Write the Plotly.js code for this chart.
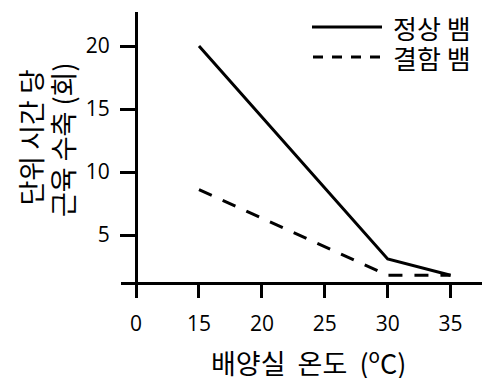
<!DOCTYPE html>
<html>
<head>
<meta charset="utf-8">
<script src="https://cdn.plot.ly/plotly-3.0.1.min.js"></script>
<style>html,body{margin:0;padding:0;background:#fff;}#chart{width:482px;height:378px;}</style>
</head>
<body>
<div id="chart"></div>
<script>
// Data
const xCategories = ["0", "15", "20", "25", "30", "35"];
const xValues = ["15", "30", "35"];
const normalValues = [20, 3.1, 1.8];
const defectValues = [8.6, 1.8, 1.8];
const seriesNames = ["정상 뱀", "결함 뱀"];
const yTickValues = [5, 10, 15, 20];
const xTitle = "배양실&nbsp; 온도&nbsp; (<sup>o</sup>C)";
const yTitleLines = ["단위 시간 당", "근육 수축 (회)"];

const korFont = "'Noto Sans CJK KR', 'Noto Sans', sans-serif";
const numFont = "'Open Sans', 'Noto Sans', sans-serif";

const traces = [
  {x: xValues, y: normalValues, name: seriesNames[0], type: "scatter", mode: "lines",
   line: {color: "#000", width: 3, dash: "solid"}, showlegend: false},
  {x: xValues, y: defectValues, name: seriesNames[1], type: "scatter", mode: "lines",
   line: {color: "#000", width: 3, dash: "14px,12px"}, showlegend: false}
];

const layout = {
  width: 482, height: 378,
  margin: {l: 121, r: 0, t: 12, b: 96},
  paper_bgcolor: "#fff", plot_bgcolor: "#fff",
  showlegend: false,
  xaxis: {
    type: "category", categoryorder: "array", categoryarray: xCategories,
    tickvals: xCategories, ticktext: xCategories,
    range: [-0.24, 5.5],
    showline: true, linecolor: "#000", linewidth: 3,
    ticks: "outside", ticklen: 13, tickwidth: 3, tickcolor: "#000",
    ticklabelstandoff: 8,
    showgrid: false, zeroline: false,
    tickfont: {family: numFont, size: 21, color: "#000"}
  },
  yaxis: {
    range: [1.27, 22.7],
    anchor: "free", position: 15/361,
    tickvals: yTickValues,
    showline: true, linecolor: "#000", linewidth: 3,
    ticks: "outside", ticklen: 15, tickwidth: 3, tickcolor: "#000",
    ticklabelstandoff: 6,
    showgrid: false, zeroline: false,
    tickfont: {family: numFont, size: 21, color: "#000"}
  },
  shapes: [
    {type: "line", xref: "paper", yref: "paper", x0: (312-121)/361, x1: (382-121)/361,
     y0: (282-27)/270, y1: (282-27)/270, line: {color: "#000", width: 3}},
    {type: "line", xref: "paper", yref: "paper", x0: (313-121)/361, x1: (381-121)/361,
     y0: (282-57)/270, y1: (282-57)/270, line: {color: "#000", width: 3, dash: "10px,9px"}}
  ],
  annotations: [
    {xref: "paper", yref: "paper", x: (391-121)/361, y: (282-27)/270, xanchor: "left", yanchor: "middle",
     text: seriesNames[0], showarrow: false, height: 28, font: {family: korFont, size: 26, color: "#000"}},
    {xref: "paper", yref: "paper", x: (391-121)/361, y: (282-57)/270, xanchor: "left", yanchor: "middle",
     text: seriesNames[1], showarrow: false, height: 28, font: {family: korFont, size: 26, color: "#000"}},
    {xref: "paper", yref: "paper", x: (308-121)/361, y: (282-361)/270, xanchor: "center", yanchor: "middle",
     text: xTitle, showarrow: false, font: {family: korFont, size: 27, color: "#000"}},
    {xref: "paper", yref: "paper", x: (29.5-121)/361, y: (282-137)/270, xanchor: "center", yanchor: "middle",
     text: yTitleLines[0], textangle: -90, showarrow: false, font: {family: korFont, size: 27, color: "#000"}},
    {xref: "paper", yref: "paper", x: (62-121)/361, y: (282-140)/270, xanchor: "center", yanchor: "middle",
     text: yTitleLines[1], textangle: -90, showarrow: false, font: {family: korFont, size: 27, color: "#000"}}
  ]
};

Plotly.newPlot("chart", traces, layout, {staticPlot: true, displayModeBar: false});
</script>
</body>
</html>
